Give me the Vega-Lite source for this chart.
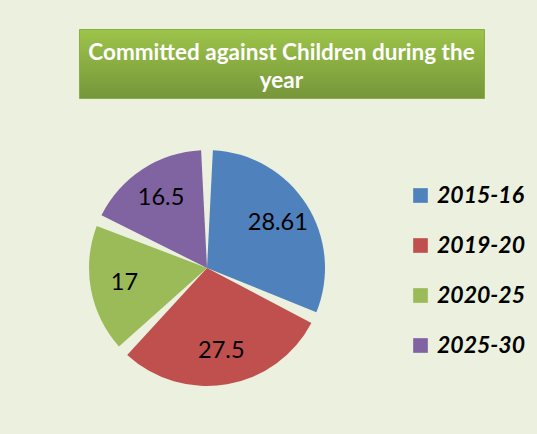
{
  "$schema": "https://vega.github.io/schema/vega-lite/v6.json",
  "background": "#EBF1DE",
  "padding": {"left": 78, "top": 28, "right": 14, "bottom": 40},
  "spacing": 41,
  "datasets": {
    "pie": [
      {"period": "2015-16", "value": 28.61},
      {"period": "2019-20", "value": 27.5},
      {"period": "2020-25", "value": 17},
      {"period": "2025-30", "value": 16.5}
    ],
    "heading": [
      {"line1": "Committed against Children during the", "line2": "year"}
    ]
  },
  "vconcat": [
    {
      "width": 405,
      "height": 69,
      "view": {
        "fill": {
          "gradient": "linear",
          "x1": 0, "y1": 0, "x2": 0, "y2": 1,
          "stops": [
            {"offset": 0, "color": "#9DC44A"},
            {"offset": 1, "color": "#76963A"}
          ]
        },
        "stroke": "#8AAE45",
        "strokeWidth": 1
      },
      "data": {"name": "heading"},
      "mark": {
        "type": "text",
        "font": "Lato",
        "fontWeight": "bold",
        "fontSize": 22.5,
        "color": "white",
        "lineHeight": 28,
        "align": "center",
        "baseline": "middle",
        "dy": -11
      },
      "encoding": {
        "text": {"value": ["Committed against Children during the", "year"]}
      }
    },
    {
      "width": 256,
      "height": 256,
      "view": {"stroke": null},
      "data": {"name": "pie"},
      "encoding": {
        "theta": {"field": "value", "type": "quantitative", "stack": true},
        "order": {"field": "period", "type": "nominal"}
      },
      "layer": [
        {
          "mark": {"type": "arc", "outerRadius": 118, "padAngle": 0.1},
          "encoding": {
            "color": {
              "field": "period",
              "type": "nominal",
              "scale": {
                "domain": ["2015-16", "2019-20", "2020-25", "2025-30"],
                "range": ["#4F81BD", "#C0504D", "#9BBB59", "#8064A2"]
              },
              "legend": {
                "title": null,
                "orient": "none",
                "legendX": 330,
                "legendY": 155,
                "padding": 0,
                "symbolType": "square",
                "symbolSize": 215,
                "symbolStrokeWidth": 0,
                "labelFont": "Lato",
                "labelFontSize": 23,
                "labelFontWeight": "bold",
                "labelFontStyle": "italic",
                "labelColor": "black",
                "labelOffset": 5,
                "rowPadding": 26
              }
            }
          }
        },
        {
          "mark": {"type": "text", "radius": 84, "font": "Lato", "fontSize": 23.5, "color": "black"},
          "encoding": {
            "text": {"field": "value", "type": "nominal"},
            "detail": {"field": "period", "type": "nominal"}
          }
        }
      ]
    }
  ]
}
